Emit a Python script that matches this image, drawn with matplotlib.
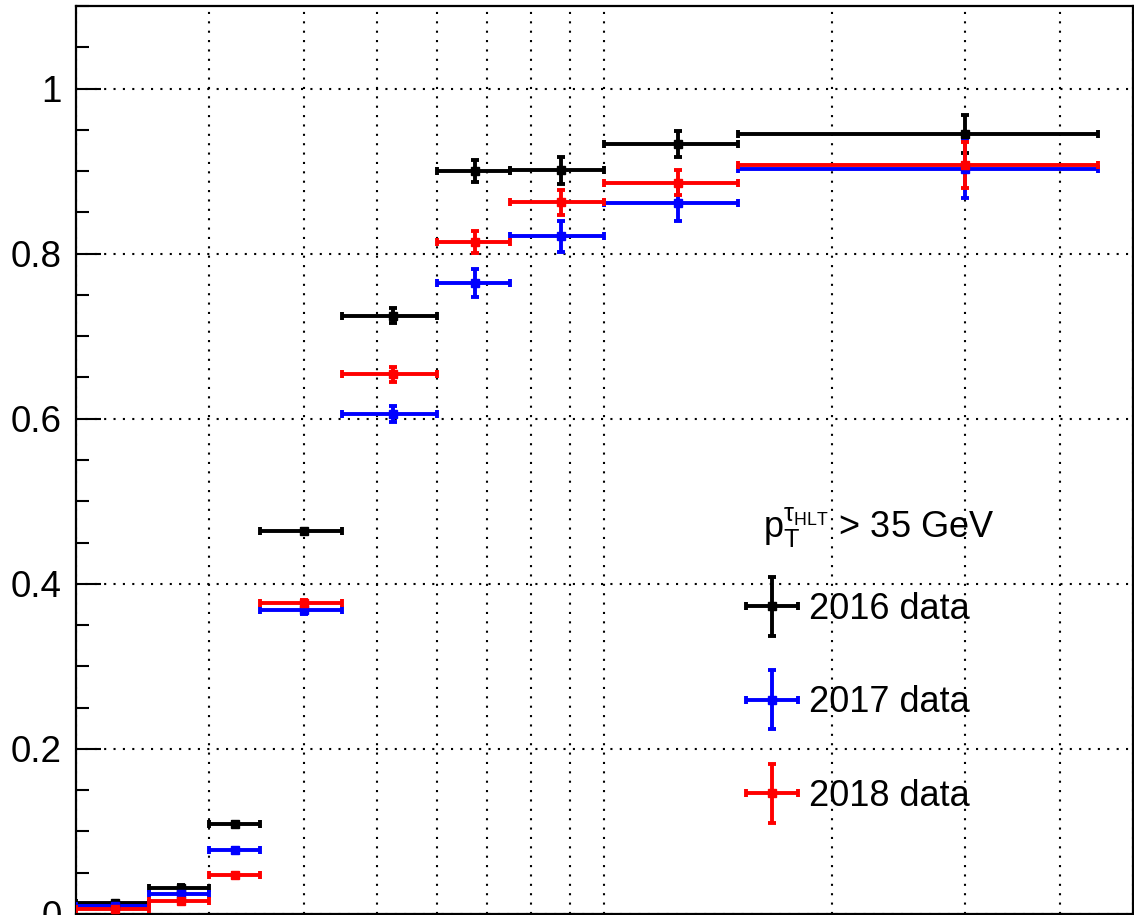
import numpy as np
import matplotlib
matplotlib.use('Agg')
import matplotlib.pyplot as plt
from matplotlib.legend_handler import HandlerErrorbar
from matplotlib.ticker import MultipleLocator, LogLocator, NullFormatter

# tau pT bins (GeV) and the point positions inside them
x_low = [20, 25, 30, 35, 45, 60, 75, 100, 150]
x_high = [25, 30, 35, 45, 60, 75, 100, 150, 450]
x_pt = [22.5, 27.5, 32.5, 40, 52.5, 67.5, 87.5, 125, 300]

# efficiencies
eff_2016 = [0.013, 0.032, 0.109, 0.464, 0.725, 0.900, 0.901, 0.933, 0.945]
eff_2017 = [0.010, 0.024, 0.077, 0.368, 0.606, 0.765, 0.821, 0.861, 0.903]
eff_2018 = [0.006, 0.016, 0.047, 0.377, 0.654, 0.814, 0.862, 0.886, 0.907]

err_2016 = [0.002, 0.003, 0.003, 0.003, 0.009, 0.013, 0.016, 0.016, 0.023]
err_2017 = [0.002, 0.003, 0.003, 0.004, 0.010, 0.017, 0.019, 0.022, 0.035]
err_2018 = [0.002, 0.003, 0.003, 0.004, 0.009, 0.013, 0.015, 0.015, 0.028]

plt.rcParams['font.family'] = ['Liberation Sans', 'DejaVu Sans']
plt.rcParams['mathtext.fontset'] = 'custom'
plt.rcParams['mathtext.rm'] = 'Liberation Sans'
plt.rcParams['mathtext.it'] = 'Liberation Sans'
plt.rcParams['mathtext.bf'] = 'Liberation Sans:bold'

fig = plt.figure(figsize=(11.34, 9.15), dpi=100)
ax = fig.add_axes([0.067, 0.0011, 0.932, 0.9923])

xp = np.array(x_pt)
xerr = [xp - np.array(x_low), np.array(x_high) - xp]

series = [(eff_2016, err_2016, 'black', '2016 data'),
          (eff_2017, err_2017, 'blue', '2017 data'),
          (eff_2018, err_2018, 'red', '2018 data')]

handles = []
for eff, err, col, lab in series:
    h = ax.errorbar(xp, eff, yerr=err, xerr=xerr, fmt='s', color=col,
                    ms=5.5, elinewidth=2.8, capsize=2.8, capthick=2.8,
                    label=lab, zorder=3)
    handles.append(h)

ax.set_xscale('log')
ax.set_xlim(20, 500)
ax.set_ylim(0, 1.1)

ax.xaxis.set_major_locator(LogLocator(base=10, subs=[1.0]))
ax.xaxis.set_minor_locator(LogLocator(base=10, subs=np.arange(2, 10)))
ax.xaxis.set_major_formatter(NullFormatter())
ax.xaxis.set_minor_formatter(NullFormatter())
ax.tick_params(axis='x', which='both', length=0)

ax.yaxis.set_minor_locator(MultipleLocator(0.05))
ax.set_yticks([0, 0.2, 0.4, 0.6, 0.8, 1.0])
ax.set_yticklabels(['0', '0.2', '0.4', '0.6', '0.8', '1'])
ax.tick_params(axis='y', which='major', direction='in', length=18, width=1.5,
               labelsize=26.5, pad=10)
ax.tick_params(axis='y', which='minor', direction='in', length=9, width=1.5)

ax.grid(True, which='major', axis='y', color='black', linestyle=(0, (1, 3.5)), linewidth=1.5)
ax.grid(True, which='both', axis='x', color='black', linestyle=(0, (1, 3.5)), linewidth=1.5)

for s in ax.spines.values():
    s.set_linewidth(1.6)

# legend header
ax.text(0.650, 0.414, r'$\mathregular{p_{T}^{\tau_{HLT}}}$ > 35 GeV',
        transform=ax.transAxes, fontsize=26, va='baseline', ha='left')

leg = ax.legend(handles=handles, labels=[s[3] for s in series],
                loc='center left', bbox_to_anchor=(0.633, 0.2325),
                frameon=False, fontsize=26,
                handlelength=1.5, handletextpad=0.28, labelspacing=1.62,
                borderaxespad=0, borderpad=0,
                handler_map={type(handles[0]): HandlerErrorbar(xerr_size=0.73, yerr_size=0.82)})

fig.savefig('out.png', dpi=100)
